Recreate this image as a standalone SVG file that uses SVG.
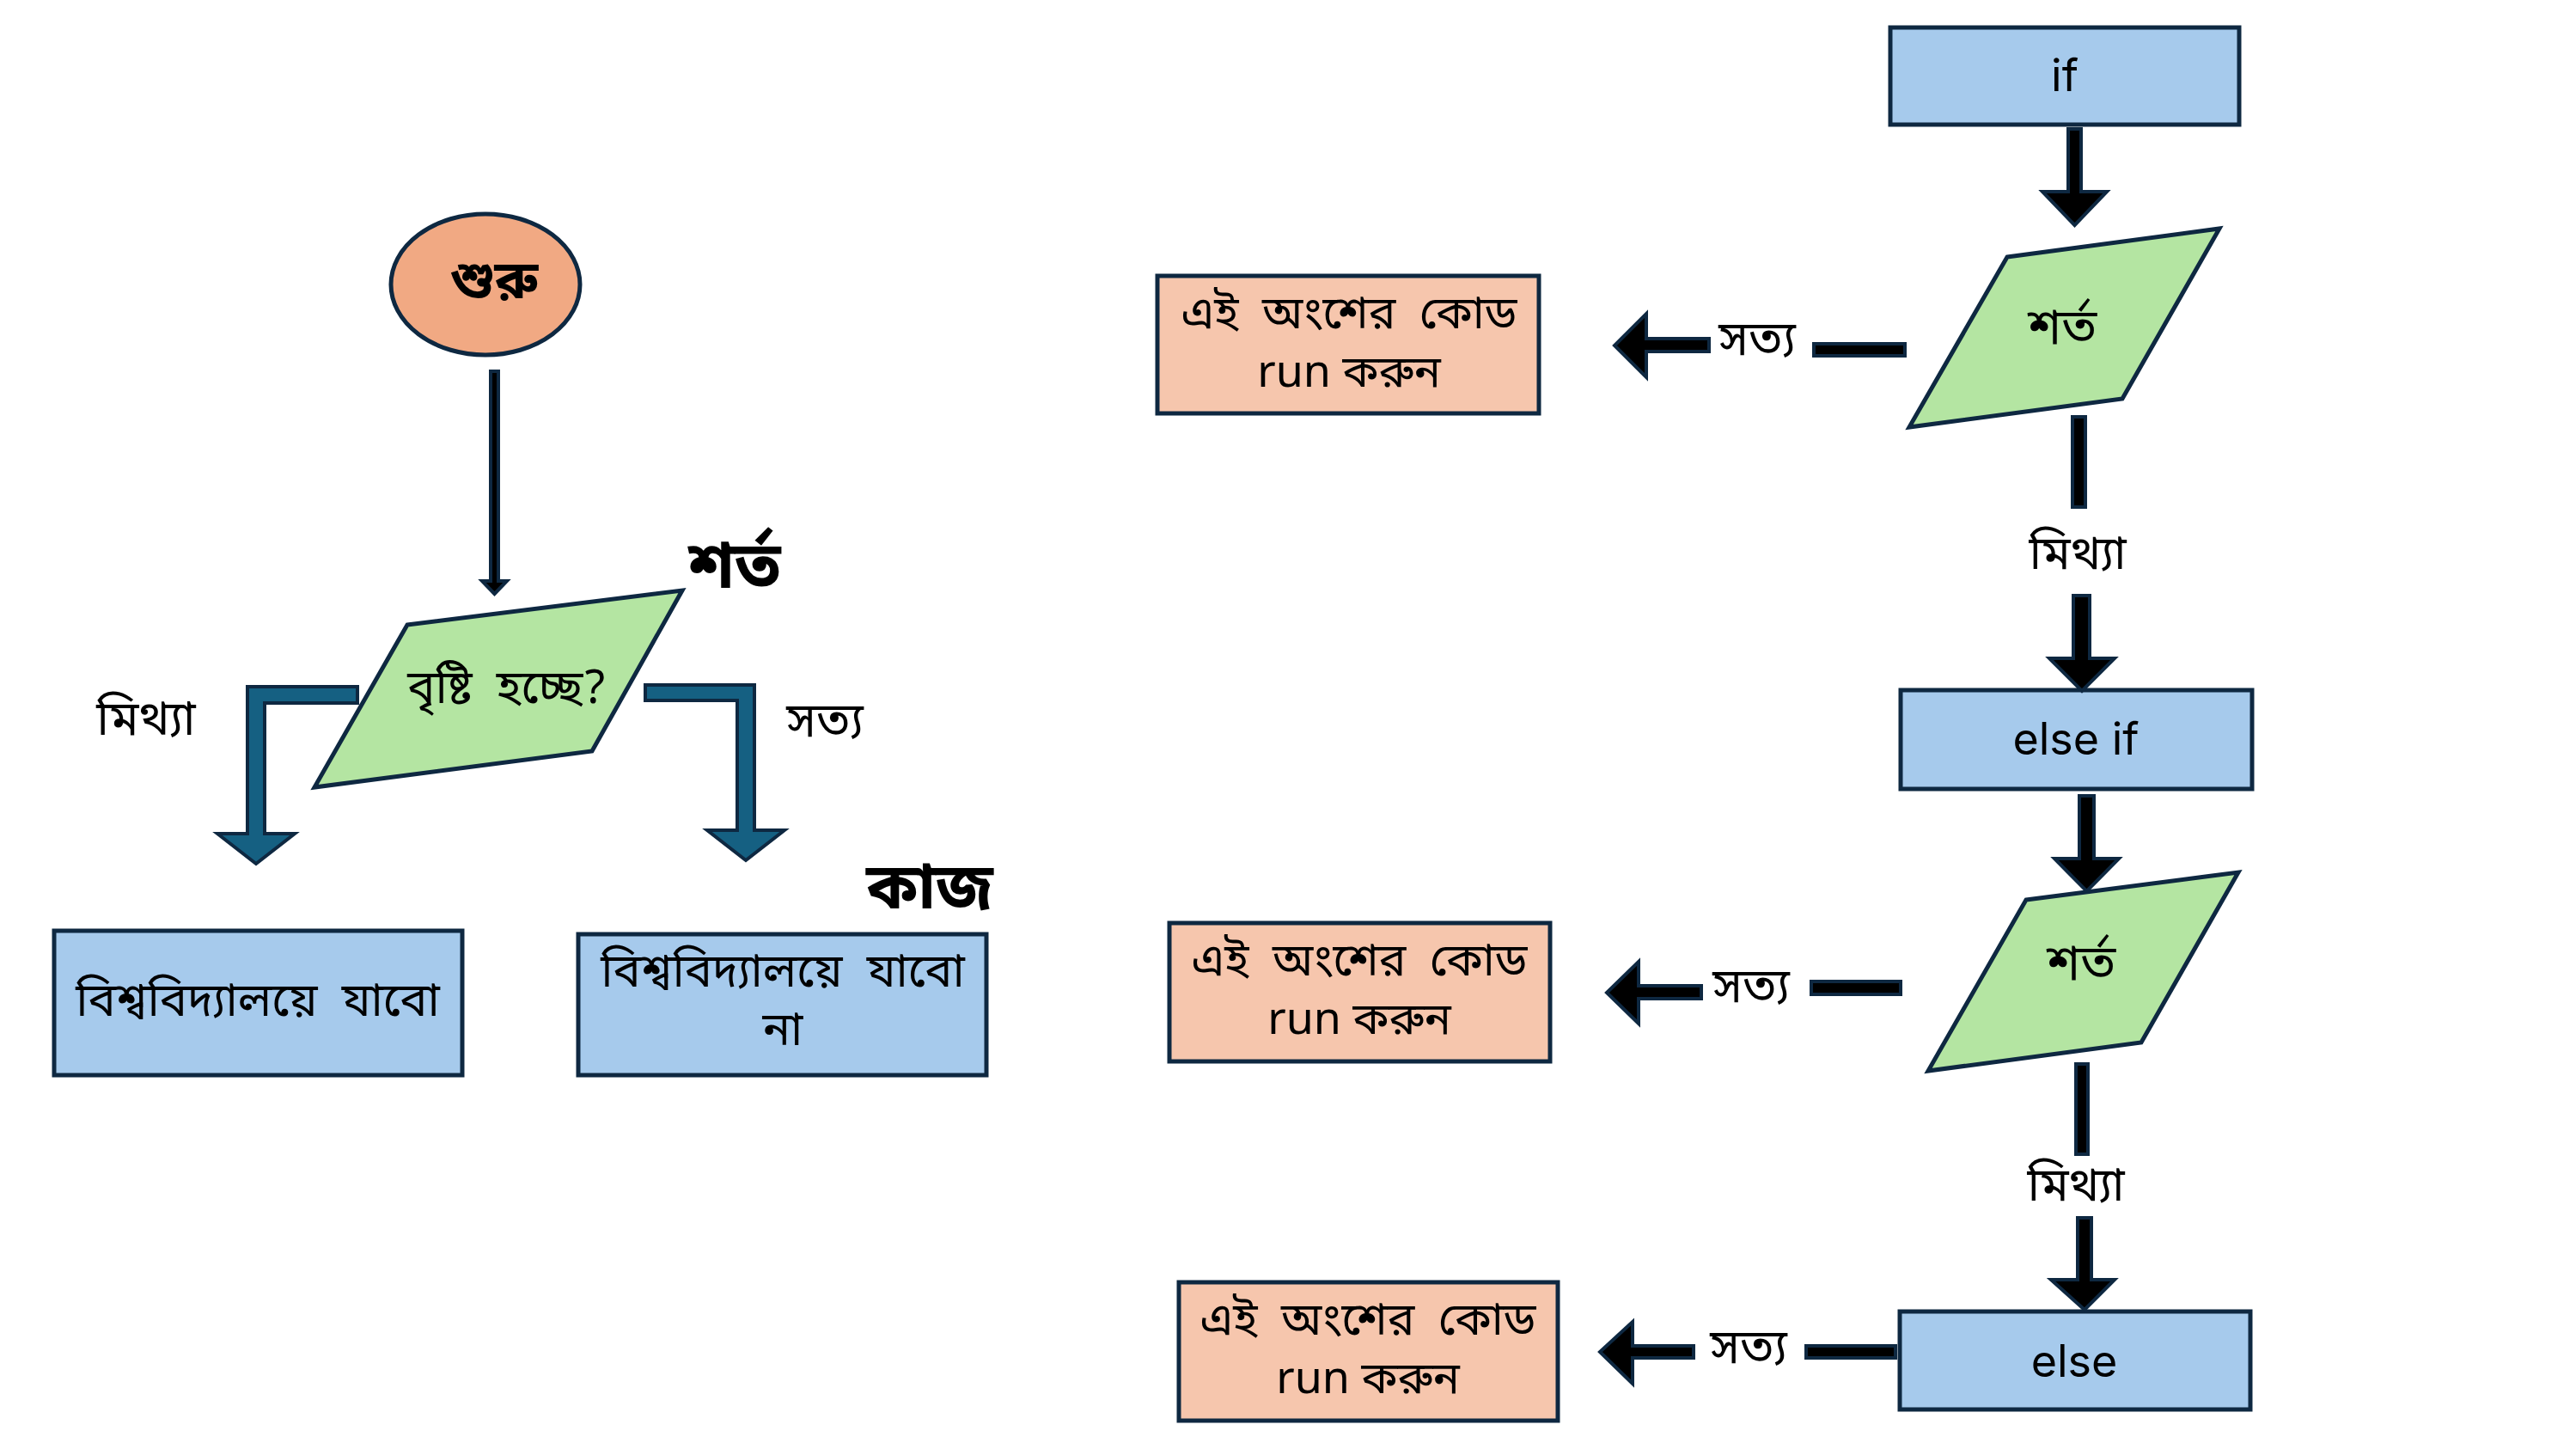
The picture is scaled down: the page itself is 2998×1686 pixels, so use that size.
<svg xmlns="http://www.w3.org/2000/svg" width="2998" height="1686" viewBox="0 0 2998 1686">
<style>
.bn{font-family:"Noto Sans Bengali","Nirmala UI","Lohit Bengali","Noto Sans",sans-serif;fill:#000;text-anchor:middle;white-space:pre}
.lat{font-family:Inter,"Noto Sans",sans-serif;fill:#000;text-anchor:middle}
.b{font-weight:bold}
.box{fill:#A6CAEC;stroke:#0E2841;stroke-width:5}
.peach{fill:#F6C6AD;stroke:#0E2841;stroke-width:5}
.para{fill:#B4E5A2;stroke:#0E2841;stroke-width:5}
.blk{fill:#000;stroke:#0E2841;stroke-width:4}
.elbow{fill:#156082;stroke:#0E2841;stroke-width:4}
</style>
<rect width="2998" height="1686" fill="#fff"/>

<g id="start">
<ellipse cx="565" cy="331" rx="110" ry="82" fill="#F1A983" stroke="#0E2841" stroke-width="5"/>
<text class="bn b" x="575" y="347" font-size="62">শুরু</text>
</g>

<g id="cond-left">
<polygon class="para" points="474,727 794,687 689,874 366,916"/>
<text class="bn" x="590" y="818" font-size="54">বৃষ্টি  হচ্ছে?</text>
</g>
<g id="label-condition">
<text class="bn b" x="855" y="684" font-size="76">শর্ত</text>
</g>
<g id="label-task">
<text class="bn b" x="1082" y="1057" font-size="74">কাজ</text>
</g>

<g id="box-go">
<rect class="box" x="63" y="1083" width="475" height="168"/>
<text class="bn" x="300" y="1182" font-size="54">বিশ্ববিদ্যালয়ে  যাবো</text>
</g>
<g id="box-nogo">
<rect class="box" x="673" y="1087" width="475" height="164"/>
<text class="bn" x="911" y="1148" font-size="54">বিশ্ববিদ্যালয়ে  যাবো</text>
<text class="bn" x="911" y="1216" font-size="54">না</text>
</g>

<g id="if">
<rect class="box" x="2200" y="32" width="406" height="113"/>
<text class="lat" x="2403" y="106" font-size="52">if</text>
</g>
<g id="cond1">
<polygon class="para" points="2336,299 2583,266 2470,464 2222,497"/>
<text class="bn" x="2400" y="400" font-size="58">শর্ত</text>
</g>
<g id="code1">
<rect class="peach" x="1347" y="321" width="444" height="160"/>
<text class="bn" x="1570" y="382" font-size="53">এই  অংশের  কোড</text>
<text class="bn" x="1570" y="450" font-size="52">run করুন</text>
</g>
<g id="elseif">
<rect class="box" x="2212" y="803" width="409" height="115"/>
<text class="lat" x="2416" y="878" font-size="52">else if</text>
</g>
<g id="cond2">
<polygon class="para" points="2358,1047 2605,1015 2492,1213 2244,1246"/>
<text class="bn" x="2422" y="1140" font-size="58">শর্ত</text>
</g>
<g id="code2">
<rect class="peach" x="1361" y="1074" width="443" height="161"/>
<text class="bn" x="1582" y="1135" font-size="53">এই  অংশের  কোড</text>
<text class="bn" x="1582" y="1203" font-size="52">run করুন</text>
</g>
<g id="else">
<rect class="box" x="2211" y="1526" width="408" height="114"/>
<text class="lat" x="2414" y="1602" font-size="52">else</text>
</g>
<g id="code3">
<rect class="peach" x="1372" y="1492" width="441" height="161"/>
<text class="bn" x="1592" y="1553" font-size="53">এই  অংশের  কোড</text>
<text class="bn" x="1592" y="1621" font-size="52">run করুন</text>
</g>

<g id="connectors">
<polygon class="blk" points="571,432 580,432 580,676 590,676 575.5,691 561,676 571,676"/>
<polygon class="elbow" points="416,799 288,799 288,970 253,970 298,1005 343,970 308,970 308,818 416,818"/>
<polygon class="elbow" points="751,797 878,797 878,966 913,966 868,1001 823,966 858,966 858,815 751,815"/>
<text class="bn" x="170" y="855" font-size="56">মিথ্যা</text>
<text class="bn" x="960" y="857" font-size="56">সত্য</text>

<polygon class="blk" points="2407,150 2422,150 2422,223 2452,223 2414.5,262 2377,223 2407,223"/>
<rect class="blk" x="2111" y="400" width="106" height="14"/>
<polygon class="blk" points="1989,394 1916,394 1916,365 1879,402 1916,439 1916,409 1989,409"/>
<text class="bn" x="2045" y="413" font-size="56">সত্য</text>
<rect class="blk" x="2412" y="485" width="15" height="105"/>
<text class="bn" x="2418" y="662" font-size="55">মিথ্যা</text>
<polygon class="blk" points="2413,693 2432,693 2432,766 2461,766 2423,804 2385,766 2413,766"/>

<polygon class="blk" points="2420,926 2437,926 2437,999 2466,999 2428.5,1037 2391,999 2420,999"/>
<rect class="blk" x="2108" y="1142" width="104" height="15"/>
<polygon class="blk" points="1980,1147 1907,1147 1907,1119 1870,1155 1907,1191 1907,1162 1980,1162"/>
<text class="bn" x="2038" y="1166" font-size="56">সত্য</text>
<rect class="blk" x="2416" y="1238" width="14" height="105"/>
<text class="bn" x="2416" y="1397" font-size="55">মিথ্যা</text>
<polygon class="blk" points="2418,1417 2434,1417 2434,1489 2461,1489 2426,1524 2387,1489 2418,1489"/>

<rect class="blk" x="2102" y="1566" width="104" height="14"/>
<polygon class="blk" points="1971,1566 1900,1566 1900,1538 1862,1573 1900,1610 1900,1580 1971,1580"/>
<text class="bn" x="2035" y="1586" font-size="56">সত্য</text>
</g>
</svg>
